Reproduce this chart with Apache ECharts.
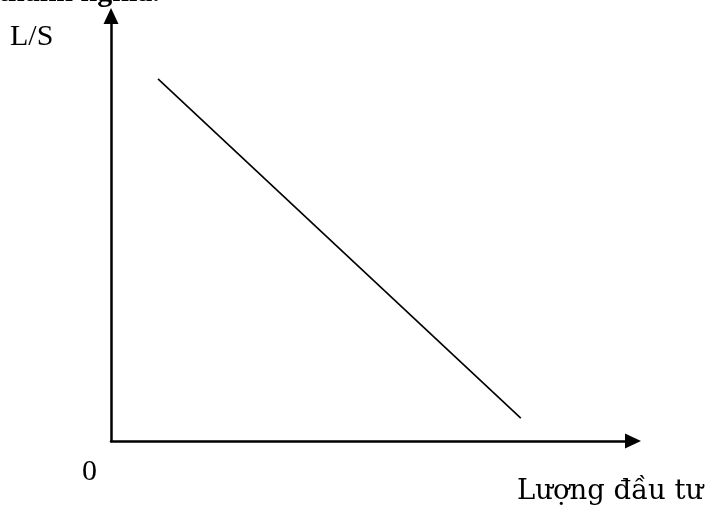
<!DOCTYPE html>
<html>
<head>
<meta charset="utf-8">
<script src="https://cdn.jsdelivr.net/npm/echarts@6/dist/echarts.min.js"></script>
<style>
  html, body { margin: 0; padding: 0; background: #fff; }
  #chart { width: 708px; height: 513px; }
</style>
</head>
<body>
<div id="chart"></div>
<script>
  // data (axis units 0..100)
  var lineX = [9.0, 78.5];
  var lineY = [85.2, 5.4];
  var yName = 'L/S';
  var xName = 'Lượng đầu tư';
  var originLabel = '0';
  var topText = 'thành nghĩa.';

  var chart = echarts.init(document.getElementById('chart'));

  var points = [];
  for (var i = 0; i < lineX.length; i++) {
    points.push([lineX[i], lineY[i]]);
  }

  var axisCommon = {
    type: 'value',
    min: 0,
    max: 100,
    splitLine: { show: false },
    axisTick: { show: false },
    axisLabel: { show: false },
    axisLine: {
      show: true,
      symbol: ['none', 'triangle'],
      symbolSize: [15, 16],
      lineStyle: { color: '#000', width: 2.5 }
    }
  };

  var txt = function (t, x, y, size, family, weight) {
    return {
      type: 'text', left: x, top: y,
      style: {
        text: t, fill: '#000',
        fontSize: size, fontFamily: family, fontWeight: weight || 'normal'
      }
    };
  };

  var option = {
    backgroundColor: '#fff',
    animation: false,
    grid: { left: 111, right: 75, top: 16, bottom: 72 },
    xAxis: axisCommon,
    yAxis: axisCommon,
    series: [{
      type: 'line',
      data: points,
      symbol: 'none',
      lineStyle: { color: '#000', width: 1.6 }
    }],
    graphic: [
      txt(topText, -2, -22, 30, 'Liberation Serif', 'bold'),
      txt(yName, 10, 22, 30, 'Liberation Serif'),
      txt(originLabel, 82, 457, 30, 'Liberation Serif'),
      txt(xName, 517, 478, 27.5, 'DejaVu Serif')
    ]
  };

  chart.setOption(option);
</script>
</body>
</html>
